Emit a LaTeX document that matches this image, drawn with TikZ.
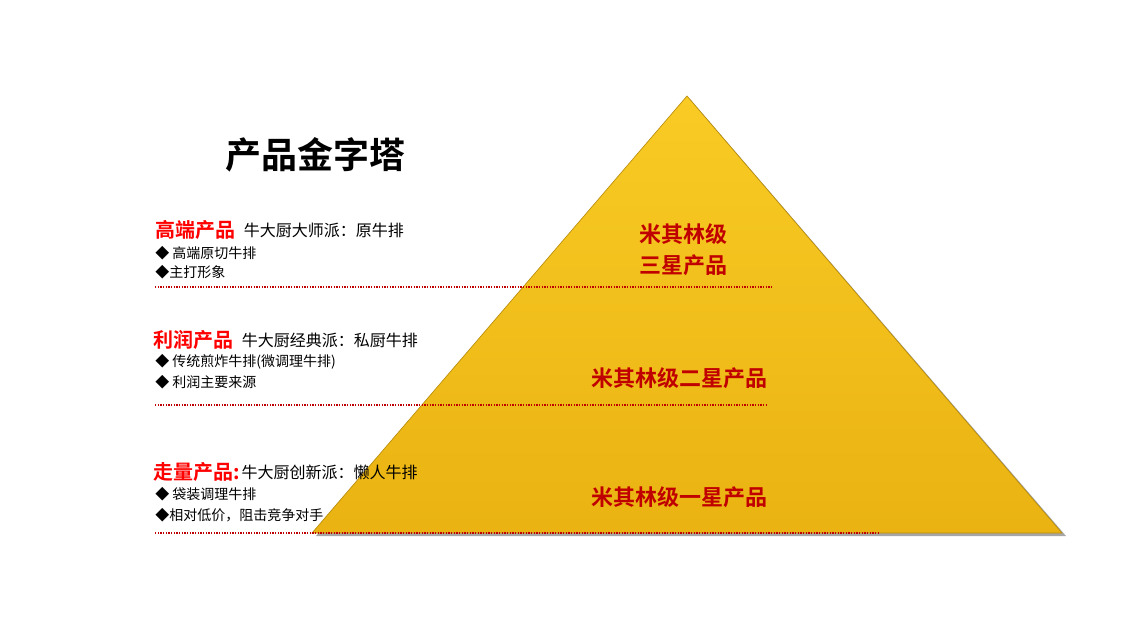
\documentclass[tikz,border=0pt]{standalone}
\usepackage{fontspec}
\setmainfont{Noto Sans CJK SC}
\newfontfamily\cjkb{Noto Sans CJK SC Bold}
\usetikzlibrary{shadows}
\definecolor{pyr}{HTML}{F9CB24}
\definecolor{pyrd}{HTML}{E8B010}
\definecolor{lab}{HTML}{C00000}
\definecolor{hd}{HTML}{FF0000}
\begin{document}
\begin{tikzpicture}[x=0.75pt,y=-0.75pt,
  hdr/.style={anchor=west,inner sep=0,text=hd,font=\cjkb\fontsize{15}{17}\selectfont},
  sub/.style={anchor=west,inner sep=0,font=\fontsize{12}{14}\selectfont},
  itm/.style={anchor=west,inner sep=0,font=\fontsize{10.5}{12}\selectfont},
  plab/.style={align=center,text=lab,font=\cjkb\fontsize{16.5}{23}\selectfont},
  sep/.style={draw=lab,densely dotted,line width=1pt}]
\useasboundingbox (0,0) rectangle (1129,632);
\fill[black!35] (690,99) -- (1066,536) -- (316,536) -- cycle;
\shade[top color=pyr,bottom color=pyrd!90!pyr,draw=pyrd!80!black,line width=0.5pt] (687,96) -- (1062,533) -- (312,533) -- cycle;
\node[anchor=center,font=\cjkb\fontsize{27}{30}\selectfont] (title) at (315,155) {产品金字塔};
\node[hdr] (h1) at (155,230) {高端产品};
\node[sub] (s1) at ([xshift=6pt]h1.east) {牛大厨大师派：原牛排};
\node[itm] (i11) at (155,253) {◆ 高端原切牛排};
\node[itm] (i12) at (155,272) {◆主打形象};
\coordinate (a1) at (155,287); \coordinate (b1) at (773,287);
\draw[sep] (a1) -- (b1);
\node[hdr] (h2) at (153,340) {利润产品};
\node[sub] (s2) at ([xshift=6pt]h2.east) {牛大厨经典派：私厨牛排};
\node[itm] (i21) at (155,362) {◆ 传统煎炸牛排(微调理牛排)};
\node[itm] (i22) at (155,382) {◆ 利润主要来源};
\coordinate (a2) at (155,405); \coordinate (b2) at (767,405);
\draw[sep] (a2) -- (b2);
\node[hdr] (h3) at (153,472) {走量产品:};
\node[sub] (s3) at ([xshift=1pt]h3.east) {牛大厨创新派：懒人牛排};
\node[itm] (i31) at (155,494) {◆ 袋装调理牛排};
\node[itm] (i32) at (155,515) {◆相对低价，阻击竞争对手};
\coordinate (a3) at (155,533); \coordinate (b3) at (878,533);
\draw[sep] (a3) -- (b3);
\node[plab] (p3) at (683,250) {米其林级\\三星产品};
\node[plab] (p2) at (679,378) {米其林级二星产品};
\node[plab] (p1) at (679,497) {米其林级一星产品};
\end{tikzpicture}
\end{document}
